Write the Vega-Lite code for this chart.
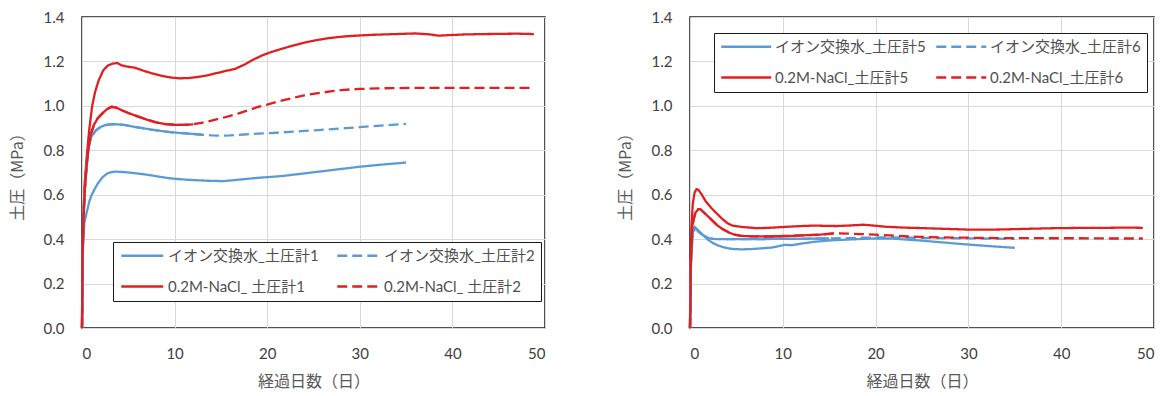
{
  "$schema": "https://vega.github.io/schema/vega-lite/v6.json",
  "padding": {"left": 8, "top": 9, "right": 5, "bottom": 5},
  "spacing": 70,
  "config": {
    "font": "Lato, Noto Sans CJK JP",
    "view": {"stroke": "#1a1a1a", "strokeWidth": 1.5},
    "axis": {
      "grid": true, "gridColor": "#d9d9d9", "gridWidth": 1,
      "domain": false, "ticks": false,
      "labelFont": "Lato", "labelFontSize": 15, "labelColor": "#404040", "labelPadding": 18,
      "titleFont": "Noto Sans CJK JP", "titleFontSize": 16, "titleColor": "#595959", "titleFontWeight": "normal"
    },
    "legend": {
      "labelFont": "Lato, Noto Sans CJK JP", "labelFontSize": 15, "labelColor": "#505050",
      "strokeColor": "#1a1a1a", "fillColor": "#ffffff", "padding": 6,
      "symbolType": "M-1,0H7", "symbolStrokeWidth": 2.3,
      "columns": 2, "direction": "horizontal", "rowPadding": 15
    }
  },
  "datasets": {
    "left": [
      {"series": "イオン交換水_土圧計1", "day": 0, "mpa": 0},
      {"series": "イオン交換水_土圧計1", "day": 0.1, "mpa": 0.35},
      {"series": "イオン交換水_土圧計1", "day": 0.25, "mpa": 0.47},
      {"series": "イオン交換水_土圧計1", "day": 0.5, "mpa": 0.52},
      {"series": "イオン交換水_土圧計1", "day": 0.8, "mpa": 0.57},
      {"series": "イオン交換水_土圧計1", "day": 1, "mpa": 0.595},
      {"series": "イオン交換水_土圧計1", "day": 1.3, "mpa": 0.62},
      {"series": "イオン交換水_土圧計1", "day": 1.7, "mpa": 0.65},
      {"series": "イオン交換水_土圧計1", "day": 2.2, "mpa": 0.678},
      {"series": "イオン交換水_土圧計1", "day": 2.7, "mpa": 0.695},
      {"series": "イオン交換水_土圧計1", "day": 3.2, "mpa": 0.702},
      {"series": "イオン交換水_土圧計1", "day": 3.7, "mpa": 0.704},
      {"series": "イオン交換水_土圧計1", "day": 4.5, "mpa": 0.702},
      {"series": "イオン交換水_土圧計1", "day": 5.5, "mpa": 0.698},
      {"series": "イオン交換水_土圧計1", "day": 6.5, "mpa": 0.693},
      {"series": "イオン交換水_土圧計1", "day": 7.5, "mpa": 0.687},
      {"series": "イオン交換水_土圧計1", "day": 8.5, "mpa": 0.68},
      {"series": "イオン交換水_土圧計1", "day": 9.5, "mpa": 0.674},
      {"series": "イオン交換水_土圧計1", "day": 10.5, "mpa": 0.67},
      {"series": "イオン交換水_土圧計1", "day": 11.5, "mpa": 0.667},
      {"series": "イオン交換水_土圧計1", "day": 12.5, "mpa": 0.665},
      {"series": "イオン交換水_土圧計1", "day": 13.5, "mpa": 0.663},
      {"series": "イオン交換水_土圧計1", "day": 14.5, "mpa": 0.662},
      {"series": "イオン交換水_土圧計1", "day": 15.3, "mpa": 0.661},
      {"series": "イオン交換水_土圧計1", "day": 16, "mpa": 0.664},
      {"series": "イオン交換水_土圧計1", "day": 17, "mpa": 0.668},
      {"series": "イオン交換水_土圧計1", "day": 18, "mpa": 0.672},
      {"series": "イオン交換水_土圧計1", "day": 19, "mpa": 0.676},
      {"series": "イオン交換水_土圧計1", "day": 20, "mpa": 0.679},
      {"series": "イオン交換水_土圧計1", "day": 21, "mpa": 0.682},
      {"series": "イオン交換水_土圧計1", "day": 22, "mpa": 0.686},
      {"series": "イオン交換水_土圧計1", "day": 23, "mpa": 0.691},
      {"series": "イオン交換水_土圧計1", "day": 24, "mpa": 0.696},
      {"series": "イオン交換水_土圧計1", "day": 25, "mpa": 0.701},
      {"series": "イオン交換水_土圧計1", "day": 26, "mpa": 0.706},
      {"series": "イオン交換水_土圧計1", "day": 27, "mpa": 0.711},
      {"series": "イオン交換水_土圧計1", "day": 28, "mpa": 0.716},
      {"series": "イオン交換水_土圧計1", "day": 29, "mpa": 0.721},
      {"series": "イオン交換水_土圧計1", "day": 30, "mpa": 0.726},
      {"series": "イオン交換水_土圧計1", "day": 31, "mpa": 0.73},
      {"series": "イオン交換水_土圧計1", "day": 32, "mpa": 0.734},
      {"series": "イオン交換水_土圧計1", "day": 33, "mpa": 0.738},
      {"series": "イオン交換水_土圧計1", "day": 34, "mpa": 0.741},
      {"series": "イオン交換水_土圧計1", "day": 35, "mpa": 0.745},

      {"series": "イオン交換水_土圧計2", "day": 0, "mpa": 0},
      {"series": "イオン交換水_土圧計2", "day": 0.1, "mpa": 0.4},
      {"series": "イオン交換水_土圧計2", "day": 0.25, "mpa": 0.6},
      {"series": "イオン交換水_土圧計2", "day": 0.5, "mpa": 0.74},
      {"series": "イオン交換水_土圧計2", "day": 0.75, "mpa": 0.82},
      {"series": "イオン交換水_土圧計2", "day": 1, "mpa": 0.86},
      {"series": "イオン交換水_土圧計2", "day": 1.5, "mpa": 0.89},
      {"series": "イオン交換水_土圧計2", "day": 2, "mpa": 0.905},
      {"series": "イオン交換水_土圧計2", "day": 2.5, "mpa": 0.913},
      {"series": "イオン交換水_土圧計2", "day": 3, "mpa": 0.917},
      {"series": "イオン交換水_土圧計2", "day": 3.6, "mpa": 0.918},
      {"series": "イオン交換水_土圧計2", "day": 4.5, "mpa": 0.914},
      {"series": "イオン交換水_土圧計2", "day": 5.5, "mpa": 0.907},
      {"series": "イオン交換水_土圧計2", "day": 6.5, "mpa": 0.9},
      {"series": "イオン交換水_土圧計2", "day": 7.5, "mpa": 0.893},
      {"series": "イオン交換水_土圧計2", "day": 8.5, "mpa": 0.887},
      {"series": "イオン交換水_土圧計2", "day": 9.5, "mpa": 0.882},
      {"series": "イオン交換水_土圧計2", "day": 10.5, "mpa": 0.878},
      {"series": "イオン交換水_土圧計2", "day": 11.5, "mpa": 0.875},
      {"series": "イオン交換水_土圧計2", "day": 12.5, "mpa": 0.872},
      {"series": "イオン交換水_土圧計2", "day": 13, "mpa": 0.87},
      {"series": "イオン交換水_土圧計2", "day": 14, "mpa": 0.867},
      {"series": "イオン交換水_土圧計2", "day": 15, "mpa": 0.866},
      {"series": "イオン交換水_土圧計2", "day": 16, "mpa": 0.867},
      {"series": "イオン交換水_土圧計2", "day": 17.5, "mpa": 0.871},
      {"series": "イオン交換水_土圧計2", "day": 19, "mpa": 0.875},
      {"series": "イオン交換水_土圧計2", "day": 21, "mpa": 0.879},
      {"series": "イオン交換水_土圧計2", "day": 22.5, "mpa": 0.883},
      {"series": "イオン交換水_土圧計2", "day": 24, "mpa": 0.887},
      {"series": "イオン交換水_土圧計2", "day": 25.5, "mpa": 0.891},
      {"series": "イオン交換水_土圧計2", "day": 27, "mpa": 0.895},
      {"series": "イオン交換水_土圧計2", "day": 28.5, "mpa": 0.9},
      {"series": "イオン交換水_土圧計2", "day": 30, "mpa": 0.904},
      {"series": "イオン交換水_土圧計2", "day": 31.5, "mpa": 0.909},
      {"series": "イオン交換水_土圧計2", "day": 33, "mpa": 0.913},
      {"series": "イオン交換水_土圧計2", "day": 34.3, "mpa": 0.917},
      {"series": "イオン交換水_土圧計2", "day": 35, "mpa": 0.919},

      {"series": "0.2M-NaCl_ 土圧計1", "day": 0, "mpa": 0},
      {"series": "0.2M-NaCl_ 土圧計1", "day": 0.05, "mpa": 0.3},
      {"series": "0.2M-NaCl_ 土圧計1", "day": 0.15, "mpa": 0.5},
      {"series": "0.2M-NaCl_ 土圧計1", "day": 0.3, "mpa": 0.66},
      {"series": "0.2M-NaCl_ 土圧計1", "day": 0.55, "mpa": 0.79},
      {"series": "0.2M-NaCl_ 土圧計1", "day": 0.8, "mpa": 0.9},
      {"series": "0.2M-NaCl_ 土圧計1", "day": 1.1, "mpa": 1.0},
      {"series": "0.2M-NaCl_ 土圧計1", "day": 1.4, "mpa": 1.06},
      {"series": "0.2M-NaCl_ 土圧計1", "day": 1.8, "mpa": 1.115},
      {"series": "0.2M-NaCl_ 土圧計1", "day": 2.3, "mpa": 1.16},
      {"series": "0.2M-NaCl_ 土圧計1", "day": 2.8, "mpa": 1.182},
      {"series": "0.2M-NaCl_ 土圧計1", "day": 3.3, "mpa": 1.19},
      {"series": "0.2M-NaCl_ 土圧計1", "day": 3.8, "mpa": 1.193},
      {"series": "0.2M-NaCl_ 土圧計1", "day": 4.3, "mpa": 1.182},
      {"series": "0.2M-NaCl_ 土圧計1", "day": 5, "mpa": 1.176},
      {"series": "0.2M-NaCl_ 土圧計1", "day": 5.7, "mpa": 1.172},
      {"series": "0.2M-NaCl_ 土圧計1", "day": 6.5, "mpa": 1.16},
      {"series": "0.2M-NaCl_ 土圧計1", "day": 7.5, "mpa": 1.147},
      {"series": "0.2M-NaCl_ 土圧計1", "day": 8.5, "mpa": 1.136},
      {"series": "0.2M-NaCl_ 土圧計1", "day": 9.5, "mpa": 1.128},
      {"series": "0.2M-NaCl_ 土圧計1", "day": 10.5, "mpa": 1.124},
      {"series": "0.2M-NaCl_ 土圧計1", "day": 11.5, "mpa": 1.125},
      {"series": "0.2M-NaCl_ 土圧計1", "day": 12.5, "mpa": 1.13},
      {"series": "0.2M-NaCl_ 土圧計1", "day": 13.5, "mpa": 1.137},
      {"series": "0.2M-NaCl_ 土圧計1", "day": 14.5, "mpa": 1.147},
      {"series": "0.2M-NaCl_ 土圧計1", "day": 15.5, "mpa": 1.157},
      {"series": "0.2M-NaCl_ 土圧計1", "day": 16.5, "mpa": 1.166},
      {"series": "0.2M-NaCl_ 土圧計1", "day": 17.5, "mpa": 1.185},
      {"series": "0.2M-NaCl_ 土圧計1", "day": 18.5, "mpa": 1.208},
      {"series": "0.2M-NaCl_ 土圧計1", "day": 19.5, "mpa": 1.228},
      {"series": "0.2M-NaCl_ 土圧計1", "day": 20.5, "mpa": 1.243},
      {"series": "0.2M-NaCl_ 土圧計1", "day": 21.5, "mpa": 1.256},
      {"series": "0.2M-NaCl_ 土圧計1", "day": 22.5, "mpa": 1.268},
      {"series": "0.2M-NaCl_ 土圧計1", "day": 23.5, "mpa": 1.279},
      {"series": "0.2M-NaCl_ 土圧計1", "day": 24.5, "mpa": 1.289},
      {"series": "0.2M-NaCl_ 土圧計1", "day": 25.5, "mpa": 1.297},
      {"series": "0.2M-NaCl_ 土圧計1", "day": 26.5, "mpa": 1.304},
      {"series": "0.2M-NaCl_ 土圧計1", "day": 27.5, "mpa": 1.309},
      {"series": "0.2M-NaCl_ 土圧計1", "day": 28.5, "mpa": 1.313},
      {"series": "0.2M-NaCl_ 土圧計1", "day": 30, "mpa": 1.317},
      {"series": "0.2M-NaCl_ 土圧計1", "day": 31.5, "mpa": 1.32},
      {"series": "0.2M-NaCl_ 土圧計1", "day": 33, "mpa": 1.322},
      {"series": "0.2M-NaCl_ 土圧計1", "day": 34.5, "mpa": 1.324},
      {"series": "0.2M-NaCl_ 土圧計1", "day": 36, "mpa": 1.326},
      {"series": "0.2M-NaCl_ 土圧計1", "day": 37.5, "mpa": 1.322},
      {"series": "0.2M-NaCl_ 土圧計1", "day": 38.5, "mpa": 1.316},
      {"series": "0.2M-NaCl_ 土圧計1", "day": 39.5, "mpa": 1.318},
      {"series": "0.2M-NaCl_ 土圧計1", "day": 41, "mpa": 1.321},
      {"series": "0.2M-NaCl_ 土圧計1", "day": 43, "mpa": 1.323},
      {"series": "0.2M-NaCl_ 土圧計1", "day": 45, "mpa": 1.324},
      {"series": "0.2M-NaCl_ 土圧計1", "day": 47, "mpa": 1.325},
      {"series": "0.2M-NaCl_ 土圧計1", "day": 48.8, "mpa": 1.323},

      {"series": "0.2M-NaCl_ 土圧計2", "day": 0, "mpa": 0},
      {"series": "0.2M-NaCl_ 土圧計2", "day": 0.05, "mpa": 0.3},
      {"series": "0.2M-NaCl_ 土圧計2", "day": 0.15, "mpa": 0.48},
      {"series": "0.2M-NaCl_ 土圧計2", "day": 0.3, "mpa": 0.62},
      {"series": "0.2M-NaCl_ 土圧計2", "day": 0.5, "mpa": 0.73},
      {"series": "0.2M-NaCl_ 土圧計2", "day": 0.7, "mpa": 0.81},
      {"series": "0.2M-NaCl_ 土圧計2", "day": 0.93, "mpa": 0.87},
      {"series": "0.2M-NaCl_ 土圧計2", "day": 1.3, "mpa": 0.915},
      {"series": "0.2M-NaCl_ 土圧計2", "day": 1.7, "mpa": 0.945},
      {"series": "0.2M-NaCl_ 土圧計2", "day": 2.2, "mpa": 0.966},
      {"series": "0.2M-NaCl_ 土圧計2", "day": 2.7, "mpa": 0.985},
      {"series": "0.2M-NaCl_ 土圧計2", "day": 3.2, "mpa": 0.996},
      {"series": "0.2M-NaCl_ 土圧計2", "day": 3.7, "mpa": 0.992},
      {"series": "0.2M-NaCl_ 土圧計2", "day": 4.3, "mpa": 0.98},
      {"series": "0.2M-NaCl_ 土圧計2", "day": 5, "mpa": 0.968},
      {"series": "0.2M-NaCl_ 土圧計2", "day": 6, "mpa": 0.953},
      {"series": "0.2M-NaCl_ 土圧計2", "day": 7, "mpa": 0.938},
      {"series": "0.2M-NaCl_ 土圧計2", "day": 8, "mpa": 0.926},
      {"series": "0.2M-NaCl_ 土圧計2", "day": 9, "mpa": 0.918},
      {"series": "0.2M-NaCl_ 土圧計2", "day": 10, "mpa": 0.915},
      {"series": "0.2M-NaCl_ 土圧計2", "day": 11, "mpa": 0.914},
      {"series": "0.2M-NaCl_ 土圧計2", "day": 12, "mpa": 0.917},
      {"series": "0.2M-NaCl_ 土圧計2", "day": 13, "mpa": 0.924},
      {"series": "0.2M-NaCl_ 土圧計2", "day": 14, "mpa": 0.934},
      {"series": "0.2M-NaCl_ 土圧計2", "day": 15, "mpa": 0.944},
      {"series": "0.2M-NaCl_ 土圧計2", "day": 16, "mpa": 0.955},
      {"series": "0.2M-NaCl_ 土圧計2", "day": 17, "mpa": 0.967},
      {"series": "0.2M-NaCl_ 土圧計2", "day": 18, "mpa": 0.981},
      {"series": "0.2M-NaCl_ 土圧計2", "day": 19, "mpa": 0.995},
      {"series": "0.2M-NaCl_ 土圧計2", "day": 20, "mpa": 1.006},
      {"series": "0.2M-NaCl_ 土圧計2", "day": 21, "mpa": 1.018},
      {"series": "0.2M-NaCl_ 土圧計2", "day": 22, "mpa": 1.028},
      {"series": "0.2M-NaCl_ 土圧計2", "day": 23, "mpa": 1.038},
      {"series": "0.2M-NaCl_ 土圧計2", "day": 24, "mpa": 1.047},
      {"series": "0.2M-NaCl_ 土圧計2", "day": 25, "mpa": 1.054},
      {"series": "0.2M-NaCl_ 土圧計2", "day": 26, "mpa": 1.06},
      {"series": "0.2M-NaCl_ 土圧計2", "day": 27, "mpa": 1.066},
      {"series": "0.2M-NaCl_ 土圧計2", "day": 28, "mpa": 1.071},
      {"series": "0.2M-NaCl_ 土圧計2", "day": 29, "mpa": 1.074},
      {"series": "0.2M-NaCl_ 土圧計2", "day": 30, "mpa": 1.076},
      {"series": "0.2M-NaCl_ 土圧計2", "day": 32, "mpa": 1.079},
      {"series": "0.2M-NaCl_ 土圧計2", "day": 34, "mpa": 1.08},
      {"series": "0.2M-NaCl_ 土圧計2", "day": 36, "mpa": 1.081},
      {"series": "0.2M-NaCl_ 土圧計2", "day": 38, "mpa": 1.081},
      {"series": "0.2M-NaCl_ 土圧計2", "day": 40, "mpa": 1.081},
      {"series": "0.2M-NaCl_ 土圧計2", "day": 42, "mpa": 1.081},
      {"series": "0.2M-NaCl_ 土圧計2", "day": 44, "mpa": 1.081},
      {"series": "0.2M-NaCl_ 土圧計2", "day": 46, "mpa": 1.081},
      {"series": "0.2M-NaCl_ 土圧計2", "day": 48.8, "mpa": 1.081}
    ],
    "right": [
      {"series": "イオン交換水_土圧計5", "day": 0, "mpa": 0},
      {"series": "イオン交換水_土圧計5", "day": 0.1, "mpa": 0.3},
      {"series": "イオン交換水_土圧計5", "day": 0.3, "mpa": 0.44},
      {"series": "イオン交換水_土圧計5", "day": 0.5, "mpa": 0.455},
      {"series": "イオン交換水_土圧計5", "day": 1, "mpa": 0.435},
      {"series": "イオン交換水_土圧計5", "day": 1.5, "mpa": 0.415},
      {"series": "イオン交換水_土圧計5", "day": 2, "mpa": 0.395},
      {"series": "イオン交換水_土圧計5", "day": 2.5, "mpa": 0.382},
      {"series": "イオン交換水_土圧計5", "day": 3, "mpa": 0.372},
      {"series": "イオン交換水_土圧計5", "day": 3.5, "mpa": 0.365},
      {"series": "イオン交換水_土圧計5", "day": 4, "mpa": 0.36},
      {"series": "イオン交換水_土圧計5", "day": 4.5, "mpa": 0.356},
      {"series": "イオン交換水_土圧計5", "day": 5.5, "mpa": 0.354},
      {"series": "イオン交換水_土圧計5", "day": 6.5, "mpa": 0.355},
      {"series": "イオン交換水_土圧計5", "day": 7.5, "mpa": 0.358},
      {"series": "イオン交換水_土圧計5", "day": 8.8, "mpa": 0.362},
      {"series": "イオン交換水_土圧計5", "day": 9.5, "mpa": 0.368},
      {"series": "イオン交換水_土圧計5", "day": 10.2, "mpa": 0.374},
      {"series": "イオン交換水_土圧計5", "day": 11, "mpa": 0.373},
      {"series": "イオン交換水_土圧計5", "day": 12, "mpa": 0.38},
      {"series": "イオン交換水_土圧計5", "day": 13.4, "mpa": 0.388},
      {"series": "イオン交換水_土圧計5", "day": 15.3, "mpa": 0.395},
      {"series": "イオン交換水_土圧計5", "day": 17, "mpa": 0.398},
      {"series": "イオン交換水_土圧計5", "day": 18.5, "mpa": 0.401},
      {"series": "イオン交換水_土圧計5", "day": 20, "mpa": 0.403},
      {"series": "イオン交換水_土圧計5", "day": 21.5, "mpa": 0.403},
      {"series": "イオン交換水_土圧計5", "day": 23, "mpa": 0.399},
      {"series": "イオン交換水_土圧計5", "day": 24.7, "mpa": 0.394},
      {"series": "イオン交換水_土圧計5", "day": 26.7, "mpa": 0.387},
      {"series": "イオン交換水_土圧計5", "day": 28.7, "mpa": 0.38},
      {"series": "イオン交換水_土圧計5", "day": 30.8, "mpa": 0.373},
      {"series": "イオン交換水_土圧計5", "day": 32.8, "mpa": 0.367},
      {"series": "イオン交換水_土圧計5", "day": 35, "mpa": 0.361},

      {"series": "イオン交換水_土圧計6", "day": 0, "mpa": 0},
      {"series": "イオン交換水_土圧計6", "day": 0.1, "mpa": 0.3},
      {"series": "イオン交換水_土圧計6", "day": 0.3, "mpa": 0.43},
      {"series": "イオン交換水_土圧計6", "day": 0.5, "mpa": 0.45},
      {"series": "イオン交換水_土圧計6", "day": 1, "mpa": 0.43},
      {"series": "イオン交換水_土圧計6", "day": 1.5, "mpa": 0.415},
      {"series": "イオン交換水_土圧計6", "day": 2, "mpa": 0.405},
      {"series": "イオン交換水_土圧計6", "day": 2.5, "mpa": 0.401},
      {"series": "イオン交換水_土圧計6", "day": 3.5, "mpa": 0.4},
      {"series": "イオン交換水_土圧計6", "day": 5, "mpa": 0.4},
      {"series": "イオン交換水_土圧計6", "day": 7, "mpa": 0.4},
      {"series": "イオン交換水_土圧計6", "day": 9, "mpa": 0.401},
      {"series": "イオン交換水_土圧計6", "day": 11, "mpa": 0.401},
      {"series": "イオン交換水_土圧計6", "day": 13, "mpa": 0.402},
      {"series": "イオン交換水_土圧計6", "day": 15, "mpa": 0.403},
      {"series": "イオン交換水_土圧計6", "day": 17, "mpa": 0.405},
      {"series": "イオン交換水_土圧計6", "day": 19, "mpa": 0.407},
      {"series": "イオン交換水_土圧計6", "day": 21, "mpa": 0.408},
      {"series": "イオン交換水_土圧計6", "day": 23, "mpa": 0.407},
      {"series": "イオン交換水_土圧計6", "day": 25, "mpa": 0.406},
      {"series": "イオン交換水_土圧計6", "day": 27, "mpa": 0.405},
      {"series": "イオン交換水_土圧計6", "day": 29, "mpa": 0.404},
      {"series": "イオン交換水_土圧計6", "day": 31, "mpa": 0.403},
      {"series": "イオン交換水_土圧計6", "day": 33, "mpa": 0.402},
      {"series": "イオン交換水_土圧計6", "day": 35, "mpa": 0.401},

      {"series": "0.2M-NaCl_土圧計5", "day": 0, "mpa": 0},
      {"series": "0.2M-NaCl_土圧計5", "day": 0.05, "mpa": 0.25},
      {"series": "0.2M-NaCl_土圧計5", "day": 0.15, "mpa": 0.45},
      {"series": "0.2M-NaCl_土圧計5", "day": 0.3, "mpa": 0.56},
      {"series": "0.2M-NaCl_土圧計5", "day": 0.5, "mpa": 0.61},
      {"series": "0.2M-NaCl_土圧計5", "day": 0.7, "mpa": 0.625},
      {"series": "0.2M-NaCl_土圧計5", "day": 0.9, "mpa": 0.622},
      {"series": "0.2M-NaCl_土圧計5", "day": 1.2, "mpa": 0.605},
      {"series": "0.2M-NaCl_土圧計5", "day": 1.7, "mpa": 0.57},
      {"series": "0.2M-NaCl_土圧計5", "day": 2.3, "mpa": 0.54},
      {"series": "0.2M-NaCl_土圧計5", "day": 2.9, "mpa": 0.515},
      {"series": "0.2M-NaCl_土圧計5", "day": 3.5, "mpa": 0.49},
      {"series": "0.2M-NaCl_土圧計5", "day": 4.1, "mpa": 0.47},
      {"series": "0.2M-NaCl_土圧計5", "day": 4.6, "mpa": 0.461},
      {"series": "0.2M-NaCl_土圧計5", "day": 5.2, "mpa": 0.457},
      {"series": "0.2M-NaCl_土圧計5", "day": 5.8, "mpa": 0.454},
      {"series": "0.2M-NaCl_土圧計5", "day": 6.5, "mpa": 0.452},
      {"series": "0.2M-NaCl_土圧計5", "day": 7.2, "mpa": 0.449},
      {"series": "0.2M-NaCl_土圧計5", "day": 8.5, "mpa": 0.451},
      {"series": "0.2M-NaCl_土圧計5", "day": 10.2, "mpa": 0.455},
      {"series": "0.2M-NaCl_土圧計5", "day": 12, "mpa": 0.459},
      {"series": "0.2M-NaCl_土圧計5", "day": 13.4, "mpa": 0.461},
      {"series": "0.2M-NaCl_土圧計5", "day": 14.5, "mpa": 0.46},
      {"series": "0.2M-NaCl_土圧計5", "day": 15.8, "mpa": 0.459},
      {"series": "0.2M-NaCl_土圧計5", "day": 17, "mpa": 0.461},
      {"series": "0.2M-NaCl_土圧計5", "day": 18.7, "mpa": 0.465},
      {"series": "0.2M-NaCl_土圧計5", "day": 19.8, "mpa": 0.461},
      {"series": "0.2M-NaCl_土圧計5", "day": 21, "mpa": 0.456},
      {"series": "0.2M-NaCl_土圧計5", "day": 23, "mpa": 0.452},
      {"series": "0.2M-NaCl_土圧計5", "day": 24.7, "mpa": 0.45},
      {"series": "0.2M-NaCl_土圧計5", "day": 27, "mpa": 0.447},
      {"series": "0.2M-NaCl_土圧計5", "day": 30, "mpa": 0.443},
      {"series": "0.2M-NaCl_土圧計5", "day": 32.8, "mpa": 0.443},
      {"series": "0.2M-NaCl_土圧計5", "day": 35, "mpa": 0.445},
      {"series": "0.2M-NaCl_土圧計5", "day": 36.8, "mpa": 0.447},
      {"series": "0.2M-NaCl_土圧計5", "day": 39, "mpa": 0.449},
      {"series": "0.2M-NaCl_土圧計5", "day": 40.8, "mpa": 0.45},
      {"series": "0.2M-NaCl_土圧計5", "day": 43, "mpa": 0.451},
      {"series": "0.2M-NaCl_土圧計5", "day": 45, "mpa": 0.451},
      {"series": "0.2M-NaCl_土圧計5", "day": 47, "mpa": 0.452},
      {"series": "0.2M-NaCl_土圧計5", "day": 48.8, "mpa": 0.451},

      {"series": "0.2M-NaCl_土圧計6", "day": 0, "mpa": 0},
      {"series": "0.2M-NaCl_土圧計6", "day": 0.1, "mpa": 0.3},
      {"series": "0.2M-NaCl_土圧計6", "day": 0.25, "mpa": 0.46},
      {"series": "0.2M-NaCl_土圧計6", "day": 0.4, "mpa": 0.49},
      {"series": "0.2M-NaCl_土圧計6", "day": 0.6, "mpa": 0.52},
      {"series": "0.2M-NaCl_土圧計6", "day": 0.9, "mpa": 0.535},
      {"series": "0.2M-NaCl_土圧計6", "day": 1.1, "mpa": 0.535},
      {"series": "0.2M-NaCl_土圧計6", "day": 1.5, "mpa": 0.52},
      {"series": "0.2M-NaCl_土圧計6", "day": 2, "mpa": 0.5},
      {"series": "0.2M-NaCl_土圧計6", "day": 2.5, "mpa": 0.48},
      {"series": "0.2M-NaCl_土圧計6", "day": 3, "mpa": 0.46},
      {"series": "0.2M-NaCl_土圧計6", "day": 3.6, "mpa": 0.443},
      {"series": "0.2M-NaCl_土圧計6", "day": 4.2, "mpa": 0.43},
      {"series": "0.2M-NaCl_土圧計6", "day": 4.8, "mpa": 0.42},
      {"series": "0.2M-NaCl_土圧計6", "day": 5.5, "mpa": 0.415},
      {"series": "0.2M-NaCl_土圧計6", "day": 6.5, "mpa": 0.413},
      {"series": "0.2M-NaCl_土圧計6", "day": 8, "mpa": 0.412},
      {"series": "0.2M-NaCl_土圧計6", "day": 9.5, "mpa": 0.413},
      {"series": "0.2M-NaCl_土圧計6", "day": 11, "mpa": 0.415},
      {"series": "0.2M-NaCl_土圧計6", "day": 12.6, "mpa": 0.418},
      {"series": "0.2M-NaCl_土圧計6", "day": 14, "mpa": 0.42},
      {"series": "0.2M-NaCl_土圧計6", "day": 15.5, "mpa": 0.426},
      {"series": "0.2M-NaCl_土圧計6", "day": 17, "mpa": 0.425},
      {"series": "0.2M-NaCl_土圧計6", "day": 18.5, "mpa": 0.423},
      {"series": "0.2M-NaCl_土圧計6", "day": 19.9, "mpa": 0.42},
      {"series": "0.2M-NaCl_土圧計6", "day": 21.5, "mpa": 0.417},
      {"series": "0.2M-NaCl_土圧計6", "day": 23, "mpa": 0.413},
      {"series": "0.2M-NaCl_土圧計6", "day": 24.7, "mpa": 0.41},
      {"series": "0.2M-NaCl_土圧計6", "day": 27, "mpa": 0.408},
      {"series": "0.2M-NaCl_土圧計6", "day": 29, "mpa": 0.407},
      {"series": "0.2M-NaCl_土圧計6", "day": 30.8, "mpa": 0.406},
      {"series": "0.2M-NaCl_土圧計6", "day": 33, "mpa": 0.405},
      {"series": "0.2M-NaCl_土圧計6", "day": 36, "mpa": 0.405},
      {"series": "0.2M-NaCl_土圧計6", "day": 39, "mpa": 0.404},
      {"series": "0.2M-NaCl_土圧計6", "day": 42, "mpa": 0.404},
      {"series": "0.2M-NaCl_土圧計6", "day": 45, "mpa": 0.403},
      {"series": "0.2M-NaCl_土圧計6", "day": 48.8, "mpa": 0.403}
    ]
  },
  "resolve": {
    "scale": {"color": "independent", "strokeDash": "independent"},
    "legend": {"color": "independent", "strokeDash": "independent"}
  },
  "hconcat": [
    {
      "width": 463,
      "height": 311,
      "data": {"name": "left"},
      "encoding": {
        "x": {"field": "day", "type": "quantitative", "scale": {"domain": [0, 50], "nice": false},
              "axis": {"values": [0, 10, 20, 30, 40, 50], "title": "経過日数（日）", "titlePadding": 12}},
        "y": {"field": "mpa", "type": "quantitative", "scale": {"domain": [0, 1.4], "nice": false},
              "axis": {"values": [0, 0.2, 0.4, 0.6, 0.8, 1.0, 1.2, 1.4], "format": ".1f", "title": "土圧（MPa）", "titlePadding": 18}},
        "color": {"field": "series", "type": "nominal",
                  "scale": {"domain": ["イオン交換水_土圧計1", "イオン交換水_土圧計2", "0.2M-NaCl_ 土圧計1", "0.2M-NaCl_ 土圧計2"],
                            "range": ["#5b9bd5", "#5b9bd5", "#e02020", "#e02020"]},
                  "legend": {"title": null, "orient": "none", "legendX": 31, "legendY": 225,
                             "symbolSize": 110, "labelOffset": 34, "columnPadding": 13}}
      },
      "layer": [
        {
          "mark": {"type": "line", "strokeWidth": 2.3},
          "encoding": {
            "strokeDash": {"field": "series", "type": "nominal",
                           "scale": {"domain": ["イオン交換水_土圧計1", "イオン交換水_土圧計2", "0.2M-NaCl_ 土圧計1", "0.2M-NaCl_ 土圧計2"],
                                     "range": [[1, 0], [10, 5], [1, 0], [10, 5]]},
                           "legend": {"title": null, "orient": "none", "legendX": 31, "legendY": 225,
                                      "symbolSize": 110, "labelOffset": 34, "columnPadding": 13}}
          }
        },
        {
          "transform": [{"filter": "(datum.series === 'イオン交換水_土圧計2' && datum.day <= 13) || (datum.series === '0.2M-NaCl_ 土圧計2' && datum.day <= 12)"}],
          "mark": {"type": "line", "strokeWidth": 2.3},
          "encoding": {"detail": {"field": "series", "type": "nominal"}}
        }
      ]
    },
    {
      "width": 464,
      "height": 311,
      "data": {"name": "right"},
      "encoding": {
        "x": {"field": "day", "type": "quantitative", "scale": {"domain": [0, 50], "nice": false},
              "axis": {"values": [0, 10, 20, 30, 40, 50], "title": "経過日数（日）", "titlePadding": 12}},
        "y": {"field": "mpa", "type": "quantitative", "scale": {"domain": [0, 1.4], "nice": false},
              "axis": {"values": [0, 0.2, 0.4, 0.6, 0.8, 1.0, 1.2, 1.4], "format": ".1f", "title": "土圧（MPa）", "titlePadding": 18}},
        "color": {"field": "series", "type": "nominal",
                  "scale": {"domain": ["イオン交換水_土圧計5", "イオン交換水_土圧計6", "0.2M-NaCl_土圧計5", "0.2M-NaCl_土圧計6"],
                            "range": ["#5b9bd5", "#5b9bd5", "#e02020", "#e02020"]},
                  "legend": {"title": null, "orient": "none", "legendX": 24, "legendY": 16,
                             "symbolSize": 156, "labelOffset": 40, "columnPadding": 5}}
      },
      "layer": [
        {
          "mark": {"type": "line", "strokeWidth": 2.3},
          "encoding": {
            "strokeDash": {"field": "series", "type": "nominal",
                           "scale": {"domain": ["イオン交換水_土圧計5", "イオン交換水_土圧計6", "0.2M-NaCl_土圧計5", "0.2M-NaCl_土圧計6"],
                                     "range": [[1, 0], [10, 5], [1, 0], [10, 5]]},
                           "legend": {"title": null, "orient": "none", "legendX": 24, "legendY": 16,
                                      "symbolSize": 156, "labelOffset": 40, "columnPadding": 5}}
          }
        },
        {
          "transform": [{"filter": "(datum.series === 'イオン交換水_土圧計6' && datum.day <= 15) || (datum.series === '0.2M-NaCl_土圧計6' && datum.day <= 15.5)"}],
          "mark": {"type": "line", "strokeWidth": 2.3},
          "encoding": {"detail": {"field": "series", "type": "nominal"}}
        }
      ]
    }
  ]
}
